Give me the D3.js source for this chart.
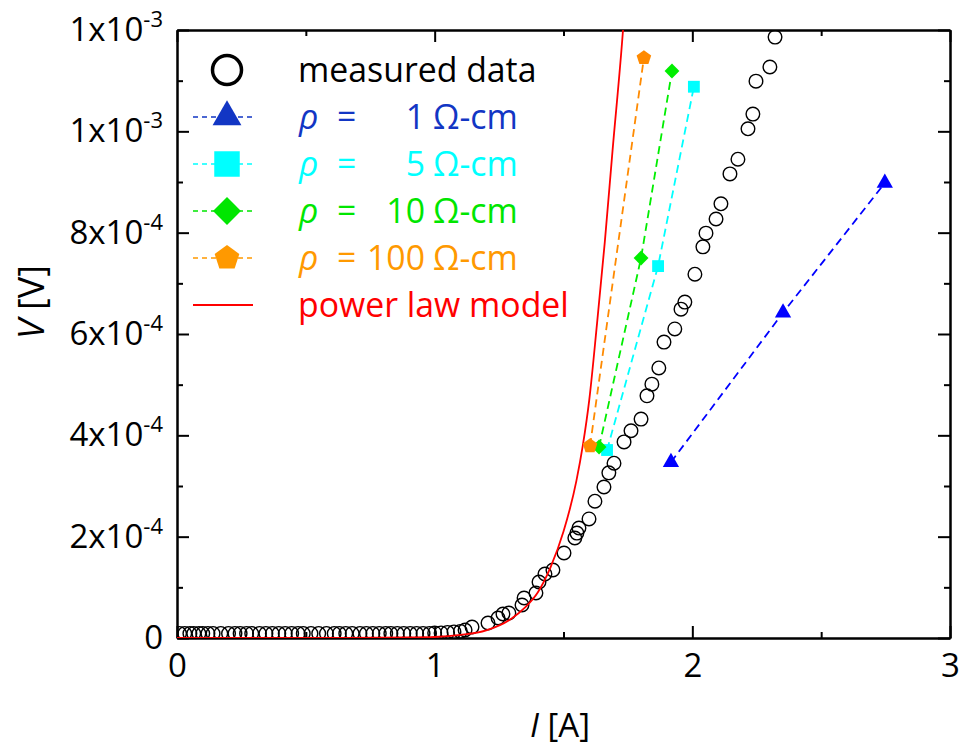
<!DOCTYPE html>
<html>
<head>
<meta charset="utf-8">
<script src="https://cdn.jsdelivr.net/npm/d3@7"></script>
<style>
body{margin:0;background:#fff}
text{font-family:'Open Sans',sans-serif}
</style>
</head>
<body>
<svg id="chart" width="963" height="753"></svg>
<script>
// measured data (I in A, V in V)
const measI=[0.01,0.03,0.05,0.065,0.085,0.10,0.12,0.14,0.17,0.20,0.225,0.245,0.27,0.29,0.32,0.345,0.37,0.395,0.42,0.445,0.47,0.49,0.52,0.55,0.58,0.61,0.63,0.655,0.68,0.71,0.735,0.76,0.785,0.81,0.83,0.855,0.88,0.905,0.93,0.955,0.98,1.0,1.025,1.05,1.075,1.1,
  1.118,1.145,1.207,1.246,1.265,1.288,1.339,1.347,1.393,1.405,1.428,1.459,1.502,1.544,1.552,1.560,1.599,1.622,1.657,1.676,1.696,1.735,1.762,1.801,1.824,1.843,1.870,1.890,1.932,1.956,1.971,2.010,2.041,2.053,2.092,2.111,2.146,2.177,2.216,2.235,2.247,2.301,2.321]
const measV=[9e-6,9e-6,9e-6,9e-6,9e-6,9e-6,9e-6,9e-6,9e-6,9e-6,9e-6,9e-6,9e-6,9e-6,9e-6,9e-6,9e-6,9e-6,9e-6,9e-6,9e-6,9e-6,9e-6,9e-6,9e-6,9e-6,9e-6,9e-6,9e-6,9e-6,9e-6,9e-6,9e-6,9e-6,9e-6,9e-6,9e-6,9e-6,9e-6,9e-6,9e-6,1e-5,1e-5,1.1e-5,1.2e-5,1.3e-5,
  1.58e-5,2.17e-5,2.96e-5,3.95e-5,4.74e-5,4.93e-5,6.51e-5,7.89e-5,8.88e-5,1.105e-4,1.263e-4,1.342e-4,1.678e-4,1.974e-4,2.07e-4,2.17e-4,2.35e-4,2.70e-4,2.98e-4,3.26e-4,3.45e-4,3.87e-4,4.09e-4,4.32e-4,4.78e-4,5.01e-4,5.33e-4,5.84e-4,6.10e-4,6.49e-4,6.63e-4,7.18e-4,7.72e-4,7.99e-4,8.27e-4,8.57e-4,9.16e-4,9.45e-4,1.005e-3,1.034e-3,1.099e-3,1.127e-3,1.186e-3]

// simulated points for each resistivity
const rho1I=[1.917,2.352,2.747]
const rho1V=[3.47e-4,6.42e-4,8.98e-4]
const rho5I=[1.669,1.867,2.006]
const rho5V=[3.71e-4,7.34e-4,1.088e-3]
const rho10I=[1.638,1.801,1.921]
const rho10V=[3.77e-4,7.50e-4,1.119e-3]
const rho100I=[1.603,1.812]
const rho100V=[3.79e-4,1.145e-3]

// power law model
const modelI=[0,0.6,0.9,1.0,1.1,1.2,1.3,1.35,1.4,1.45,1.5,1.55,1.575,1.6,1.63,1.66,1.69,1.731,1.745]
const modelV=[0,0,1e-6,2e-6,6e-6,1.5e-5,3.9e-5,6.0e-5,9.0e-5,1.4e-4,2.1e-4,3.1e-4,3.8e-4,4.7e-4,6.2e-4,7.8e-4,9.6e-4,1.2e-3,1.3e-3]

// axes
const xTicks=[0,1,2,3]
const xMinor=[0.5,1.5,2.5]
const yTicks=[0,2e-4,4e-4,6e-4,8e-4,1e-3,1.2e-3]
const yTickBase=['0','2x10','4x10','6x10','8x10','1x10','1x10']
const yTickExp=['','-4','-4','-4','-4','-3','-3']
const yMinor=[1e-4,3e-4,5e-4,7e-4,9e-4,1.1e-3]

// legend
const legendNames=['measured data','1','5','10','100','power law model']

const svg=d3.select('#chart')
const x=d3.scaleLinear().domain([0,3]).range([177,950])
const y=d3.scaleLinear().domain([0,1.2e-3]).range([638,30])

const symbolPentagon={
  draw(ctx,size){
    const r=Math.sqrt(size/2.378)
    for(let i=0;i<5;i++){
      const a=-Math.PI/2+i*2*Math.PI/5
      if(i===0)ctx.moveTo(r*Math.cos(a),r*Math.sin(a))
      else ctx.lineTo(r*Math.cos(a),r*Math.sin(a))
    }
    ctx.closePath()
  }
}

const series=[
  {I:rho1I,V:rho1V,color:'#0000ff',legendColor:'#1236c4',type:d3.symbolTriangle,size:115,legendSize:360,rot:0},
  {I:rho5I,V:rho5V,color:'#00ffff',legendColor:'#00ffff',type:d3.symbolSquare,size:140,legendSize:650,rot:0},
  {I:rho10I,V:rho10V,color:'#00ee00',legendColor:'#00e600',type:d3.symbolSquare,size:110,legendSize:390,rot:45},
  {I:rho100I,V:rho100V,color:'#ff8a00',legendColor:'#ff9900',type:symbolPentagon,size:140,legendSize:400,rot:0}
]

svg.append('defs').append('clipPath').attr('id','plotClip')
  .append('rect').attr('x',177).attr('y',30).attr('width',773).attr('height',608)

// frame with inward ticks on all four sides
function styleAxis(g){
  g.selectAll('path.domain').attr('stroke','#000').attr('stroke-width',2)
  g.selectAll('.tick line').attr('stroke','#000').attr('stroke-width',2)
}
svg.append('g').attr('transform','translate(0,638)')
  .call(d3.axisBottom(x).tickValues(xTicks).tickSize(-12).tickSizeOuter(0).tickPadding(16).tickFormat(d3.format('d')))
  .call(styleAxis)
  .call(g=>g.selectAll('text').attr('font-size',33).attr('fill','#000').attr('font-family','Open Sans'))
svg.append('g').attr('transform','translate(0,638)')
  .call(d3.axisBottom(x).tickValues(xMinor).tickSize(-6).tickSizeOuter(0).tickFormat(''))
  .call(styleAxis)
svg.append('g').attr('transform','translate(0,30)')
  .call(d3.axisTop(x).tickValues(xTicks).tickSize(-12).tickSizeOuter(0).tickFormat(''))
  .call(styleAxis)
svg.append('g').attr('transform','translate(0,30)')
  .call(d3.axisTop(x).tickValues(xMinor).tickSize(-6).tickSizeOuter(0).tickFormat(''))
  .call(styleAxis)

const yAxisG=svg.append('g').attr('transform','translate(177,0)')
  .call(d3.axisLeft(y).tickValues(yTicks).tickSize(-12).tickSizeOuter(0).tickPadding(14).tickFormat(''))
  .call(styleAxis)
yAxisG.selectAll('.tick text')
  .attr('font-size',33).attr('fill','#000').attr('font-family','Open Sans')
  .each(function(d,i){
    const t=d3.select(this)
    t.append('tspan').text(yTickBase[i])
    if(yTickExp[i]) t.append('tspan').attr('font-size',22).attr('dy',-14).text(yTickExp[i])
  })
svg.append('g').attr('transform','translate(177,0)')
  .call(d3.axisLeft(y).tickValues(yMinor).tickSize(-6).tickSizeOuter(0).tickFormat(''))
  .call(styleAxis)
svg.append('g').attr('transform','translate(950,0)')
  .call(d3.axisRight(y).tickValues(yTicks).tickSize(-12).tickSizeOuter(0).tickFormat(''))
  .call(styleAxis)
svg.append('g').attr('transform','translate(950,0)')
  .call(d3.axisRight(y).tickValues(yMinor).tickSize(-6).tickSizeOuter(0).tickFormat(''))
  .call(styleAxis)

// axis titles
const xTitle=svg.append('text').attr('x',560).attr('y',737).attr('text-anchor','middle').attr('font-size',33)
xTitle.append('tspan').attr('font-style','italic').text('I')
xTitle.append('tspan').text(' [A]')
const yTitle=svg.append('text').attr('transform','translate(44,302) rotate(-90)').attr('text-anchor','middle').attr('font-size',36)
yTitle.append('tspan').attr('font-style','italic').text('V')
yTitle.append('tspan').text(' [V]')

const plot=svg.append('g').attr('clip-path','url(#plotClip)')

// measured data circles
plot.selectAll('circle.meas')
  .data(measI.map((d,i)=>[d,measV[i]]))
  .enter().append('circle')
  .attr('class','meas')
  .attr('cx',d=>x(d[0]))
  .attr('cy',d=>y(d[1]))
  .attr('r',6.8)
  .attr('fill','none')
  .attr('stroke','#000')
  .attr('stroke-width',1.4)

// power law model
plot.append('path')
  .datum(modelI.map((d,i)=>[d,modelV[i]]))
  .attr('d',d3.line().x(d=>x(d[0])).y(d=>y(d[1])).curve(d3.curveMonotoneX))
  .attr('fill','none')
  .attr('stroke','#ff0000')
  .attr('stroke-width',1.8)

// resistivity series
series.forEach(s=>{
  const pts=s.I.map((d,i)=>[d,s.V[i]])
  plot.append('path')
    .datum(pts)
    .attr('d',d3.line().x(d=>x(d[0])).y(d=>y(d[1])))
    .attr('fill','none')
    .attr('stroke',s.color)
    .attr('stroke-width',1.8)
    .attr('stroke-dasharray','8,5')
  plot.selectAll(null)
    .data(pts)
    .enter().append('path')
    .attr('d',d3.symbol().type(s.type).size(s.size))
    .attr('transform',d=>`translate(${x(d[0])},${y(d[1])}) rotate(${s.rot})`)
    .attr('fill',s.color)
})

// legend
const rowY=[70,117,164,211,258,305]
const fs=33.8
const legend=svg.append('g')
legend.append('circle').attr('cx',227).attr('cy',rowY[0]).attr('r',14.5)
  .attr('fill','none').attr('stroke','#000').attr('stroke-width',3.5)
legend.append('text').attr('x',298).attr('y',rowY[0]+12).attr('font-size',fs).attr('fill','#000').text(legendNames[0])
series.forEach((s,i)=>{
  const ry=rowY[i+1]
  legend.append('line').attr('x1',193).attr('x2',253).attr('y1',ry).attr('y2',ry)
    .attr('stroke',s.legendColor).attr('stroke-width',1.5).attr('stroke-dasharray','5,4')
  legend.append('path')
    .attr('d',d3.symbol().type(s.type).size(s.legendSize))
    .attr('transform',`translate(227,${ry}) rotate(${s.rot})`)
    .attr('fill',s.legendColor)
  const g=legend.append('g').attr('fill',s.legendColor).attr('font-size',fs)
  g.append('text').attr('x',299).attr('y',ry+12).attr('font-style','italic').attr('font-family','DejaVu Serif').text('ρ')
  g.append('text').attr('x',337).attr('y',ry+12).text('=')
  g.append('text').attr('x',425).attr('y',ry+12).attr('text-anchor','end').text(legendNames[i+1])
  g.append('text').attr('x',433).attr('y',ry+12).text('Ω-cm')
})
legend.append('line').attr('x1',193).attr('x2',253).attr('y1',rowY[5]).attr('y2',rowY[5])
  .attr('stroke','#ff0000').attr('stroke-width',1.8)
legend.append('text').attr('x',298).attr('y',rowY[5]+12).attr('font-size',fs).attr('fill','#ff0000').text(legendNames[5])
</script>
</body>
</html>
